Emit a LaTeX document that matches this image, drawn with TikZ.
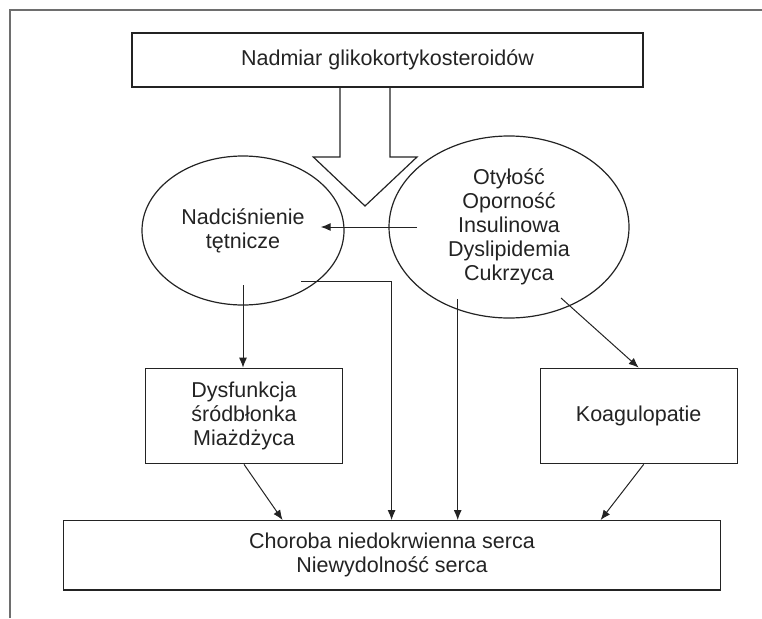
\documentclass[tikz,border=0pt]{standalone}
\usepackage{fontspec}
\setmainfont{Liberation Sans}
\usetikzlibrary{arrows.meta,shapes.geometric,calc}
\definecolor{FrameGray}{RGB}{110,110,110}
\definecolor{InkBlack}{RGB}{35,35,35}

\begin{document}
\begin{tikzpicture}[x=1pt,y=-1pt,>={Latex[length=10pt,width=8pt]},
    box/.style={draw=InkBlack,line width=1.2pt,inner sep=0pt,align=center,
      text=InkBlack,font=\fontsize{21.5}{24}\selectfont},
    oval/.style={box,ellipse},
    link/.style={->,line width=1pt,InkBlack}]
  \useasboundingbox (0,0) rectangle (762,618);
  \draw[FrameGray,line width=1.6pt] (10,618)--(10,10)--(762,10);
  % boxes and ovals
  \node[box,minimum width=511,minimum height=54] (glc) at (387.5,60) {Nadmiar glikokortykosteroidów};
  \node[oval,minimum width=202,minimum height=149] (nad) at (243,230.5) {Nadciśnienie\\tętnicze};
  \node[oval,minimum width=240,minimum height=182] (oty) at (509,227) {Otyłość\\Oporność\\Insulinowa\\Dyslipidemia\\Cukrzyca};
  \node[box,minimum width=197,minimum height=95.5] (dys) at (244,416) {Dysfunkcja\\śródbłonka\\Miażdżyca};
  \node[box,minimum width=197,minimum height=95.5] (kog) at (638.7,416) {Koagulopatie};
  \node[box,minimum width=657.6,minimum height=69.3] (chor) at (392,555.3) {Choroba niedokrwienna serca\\Niewydolność serca};
  % wide arrow under the top box
  \draw[InkBlack,line width=1.2pt] (340,87)--(340,157)--(313.3,157)--(365,206)--(417,157)--(390,157)--(390,87);
  % free ends inside the ovals
  \coordinate (o1) at (417,227);
  \coordinate (n1) at (320.7,227);
  \coordinate (n2) at (243,285);
  \coordinate (n3) at (301,281);
  \coordinate (n4) at (391.6,281);
  \coordinate (o2) at (457.7,299);
  \coordinate (o3) at (561,298);
  \draw[link] (o1)--(n1);
  \draw[link] (n2)--(n2 |- dys.north);
  \draw[link] (n3)--(n4)--(n4 |- chor.north);
  \draw[link] (o2)--(o2 |- chor.north);
  \draw[link] (o3)--(kog.north);
  \draw[link] (dys.south)--($(chor.north west)+(220,0)$);
  \draw[link] ($(kog.south)+(5,0)$)--($(chor.north west)+(538,0)$);
\end{tikzpicture}
\end{document}
